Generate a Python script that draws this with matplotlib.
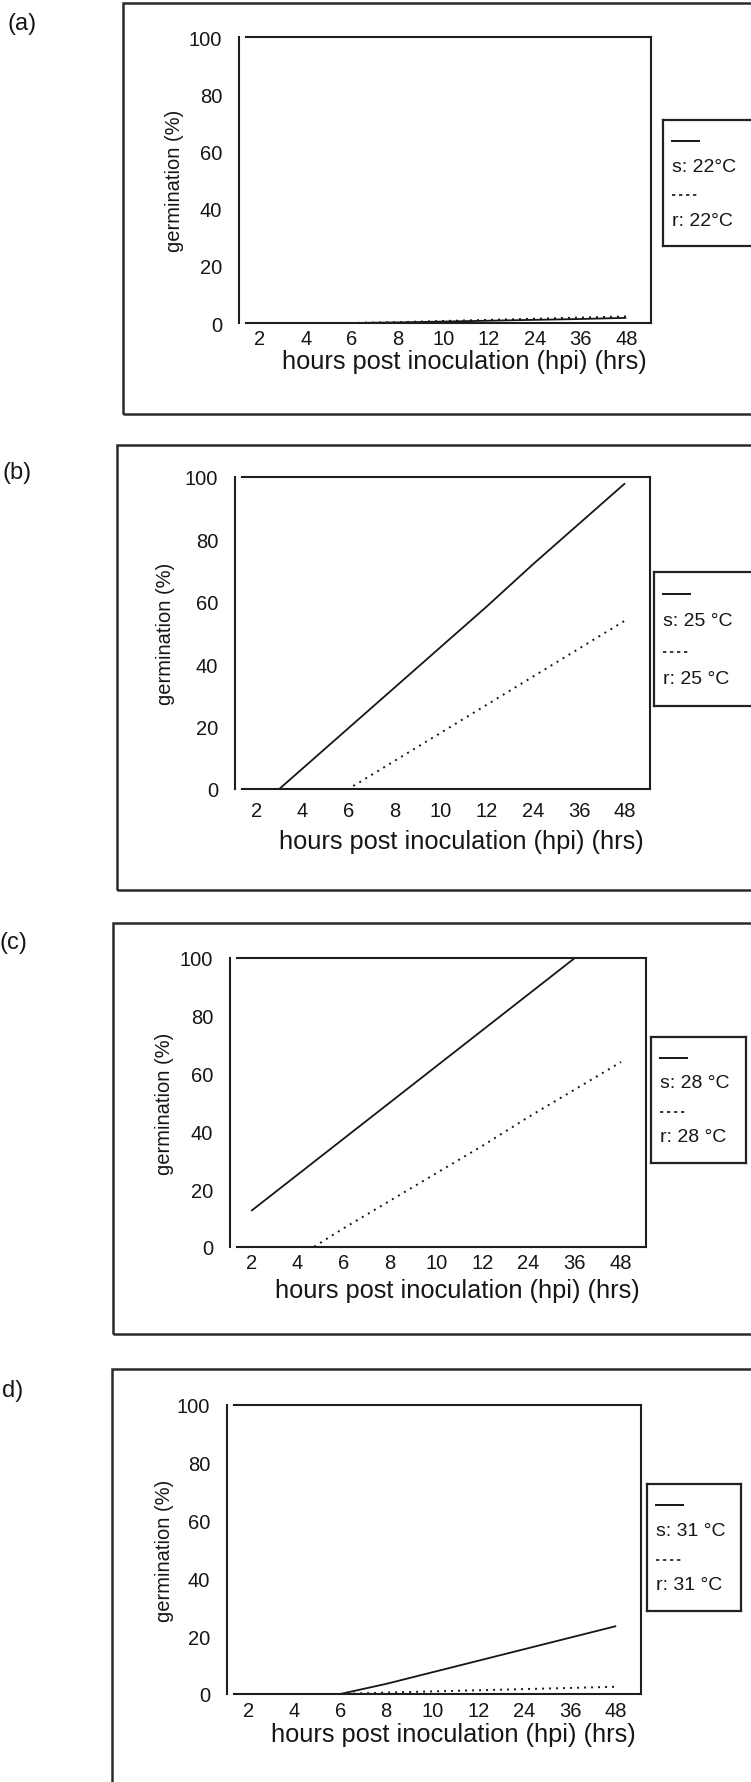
import numpy as np
import matplotlib
matplotlib.use("Agg")
import matplotlib.pyplot as plt
from matplotlib.patches import Rectangle

plt.rcParams["font.family"] = ["Liberation Sans", "DejaVu Sans"]

# sampling times (categorical axis)
HPI = [2, 4, 6, 8, 10, 12, 24, 36, 48]
HPI_LABELS = ["2", "4", "6", "8", "10", "12", "24", "36", "48"]
Y_TICKS = [0, 20, 40, 60, 80, 100]

# germination (%) of susceptible (s) and resistant (r) isolates
s22_hpi = [2, 4, 6, 8, 10, 12, 24, 36, 48]
s22 = [0, 0, 0, 0.2, 0.5, 0.8, 1.1, 1.4, 1.8]
r22_hpi = [2, 4, 6, 8, 10, 12, 24, 36, 48]
r22 = [0, 0, 0, 0.3, 0.7, 1.1, 1.5, 1.9, 2.3]

s25_hpi = [2, 3, 4, 6, 8, 10, 12, 24, 36, 48]
s25 = [0, 0, 6.5, 19.5, 32.5, 45.5, 58.5, 72, 85, 98]
r25_hpi = [2, 4, 6, 8, 10, 12, 24, 36, 48]
r25 = [0, 0, 0, 9, 18, 27, 36, 45, 54]

s28_hpi = [2, 4, 6, 8, 10, 12, 24, 36, 48]
s28 = [12.5, 25, 37.5, 50, 62.5, 75, 87.5, 100, 100]
r28_hpi = [2, 4, 4.7, 6, 8, 10, 12, 24, 36, 48]
r28 = [0, 0, 0, 6.5, 16, 25.5, 35, 45, 54.5, 64]

s31_hpi = [2, 4, 6, 8, 10, 12, 24, 36, 48]
s31 = [0, 0, 0, 3.5, 7.5, 11.5, 15.5, 19.5, 23.5]
r31_hpi = [2, 4, 6, 8, 10, 12, 24, 36, 48]
r31 = [0, 0, 0, 0.5, 0.9, 1.3, 1.7, 2.1, 2.5]

TAGS = ["(a)", "(b)", "(c)", "d)"]
S_LABELS = ["s: 22°C", "s: 25 °C", "s: 28 °C", "s: 31 °C"]
R_LABELS = ["r: 22°C", "r: 25 °C", "r: 28 °C", "r: 31 °C"]
SERIES = [((s22_hpi, s22), (r22_hpi, r22)),
          ((s25_hpi, s25), (r25_hpi, r25)),
          ((s28_hpi, s28), (r28_hpi, r28)),
          ((s31_hpi, s31), (r31_hpi, r31))]

# page layout in pixels (left, top, right, bottom)
LAYOUT = [
    dict(box=(123, 4, 770, 415), axes=(239, 38, 651, 324), leg=(663, 121, 770, 247),
         tag=(37, 24), xpad=4.5, xl=362, yl=175),
    dict(box=(117, 446, 770, 891), axes=(235, 478, 650, 790), leg=(654, 573, 770, 707),
         tag=(32, 473), xpad=9.0, xl=842, yl=166),
    dict(box=(113, 924, 770, 1335), axes=(230, 959, 646, 1248), leg=(651, 1038, 746, 1164),
         tag=(27, 943), xpad=4.5, xl=1291, yl=165),
    dict(box=(112, 1370, 770, 1800), axes=(227, 1406, 641, 1695), leg=(647, 1485, 741, 1612),
         tag=(23, 1391), xpad=5.0, xl=1735, yl=164),
]

W, H = 751, 1783
INK = "#161616"
fig = plt.figure(figsize=(W / 100, H / 100), dpi=100)
fig.patch.set_facecolor("white")


def frac(l, t, r, b):
    return [l / W, 1 - b / H, (r - l) / W, (b - t) / H]


def to_pos(hpi):
    return np.interp(hpi, HPI, np.arange(len(HPI)))


XLIM = (-0.46, 8.54)

for i, lay in enumerate(LAYOUT):
    # outer frame of the panel
    bl, bt, br, bb = lay["box"]
    fig.add_artist(Rectangle((bl / W, 1 - bb / H), (br - bl) / W, (bb - bt) / H,
                             transform=fig.transFigure, fill=False, lw=1.8,
                             edgecolor="#2a2a2a", clip_on=False))
    fig.text(lay["tag"][0] / W, 1 - lay["tag"][1] / H, TAGS[i], ha="right",
             va="center", fontsize=17, color=INK)

    al, at, ar, ab = lay["axes"]
    ax = fig.add_axes(frac(al, at, ar, ab))
    (sh, sv), (rh, rv) = SERIES[i]
    ax.plot(to_pos(sh), sv, color=INK, lw=1.3, solid_capstyle="butt",
            clip_on=True)
    ax.plot(to_pos(rh), rv, color=INK, lw=1.4, linestyle=(0, (1.0, 2.6)),
            clip_on=True)
    ax.set_xlim(*XLIM)
    ax.set_ylim(0, 100)
    ax.set_xticks(range(len(HPI)))
    ax.set_xticklabels(HPI_LABELS)
    ax.set_yticks(Y_TICKS)
    ax.tick_params(length=0, labelsize=14.5, colors=INK)
    ax.tick_params(axis="y", pad=12)
    ax.tick_params(axis="x", pad=lay["xpad"])
    for sp in ax.spines.values():
        sp.set_linewidth(1.5)
        sp.set_color("#1e1e1e")
    ax.spines["top"].set_bounds(XLIM[0] + 0.15, XLIM[1])
    ax.spines["bottom"].set_bounds(XLIM[0] + 0.15, XLIM[1])

    wpx, hpx = ar - al, ab - at
    ax.set_xlabel("hours post inoculation (hpi) (hrs)", fontsize=18.3, color=INK)
    ax.xaxis.set_label_coords(0.5 + 19 / wpx, -(lay["xl"] - ab) / hpx)
    ax.xaxis.label.set_va("center")
    ax.set_ylabel("germination (%)", fontsize=14.5, color=INK)
    ax.yaxis.set_label_coords(-(al - lay["yl"]) / wpx, 0.5)
    ax.yaxis.label.set_va("center")

    # legend box: line sample above each label
    ll, lt, lr, lb = lay["leg"]
    lg = fig.add_axes(frac(ll, lt, lr, lb))
    lh = lb - lt
    lg.set_xlim(0, lr - ll)
    lg.set_ylim(lh, 0)
    lg.set_xticks([])
    lg.set_yticks([])
    for sp in lg.spines.values():
        sp.set_linewidth(1.6)
        sp.set_color("#222222")
    k = lh / 126
    lg.plot([9, 36], [21 * k, 21 * k], color=INK, lw=1.4)
    lg.text(9, 46 * k, S_LABELS[i], fontsize=14, va="center", ha="left", color=INK)
    lg.plot([9, 35], [75 * k, 75 * k], color=INK, lw=1.2, linestyle=(0, (2, 2.2)))
    lg.text(9, 100 * k, R_LABELS[i], fontsize=14, va="center", ha="left", color=INK)

fig.savefig("out.png", dpi=100, facecolor="white")
